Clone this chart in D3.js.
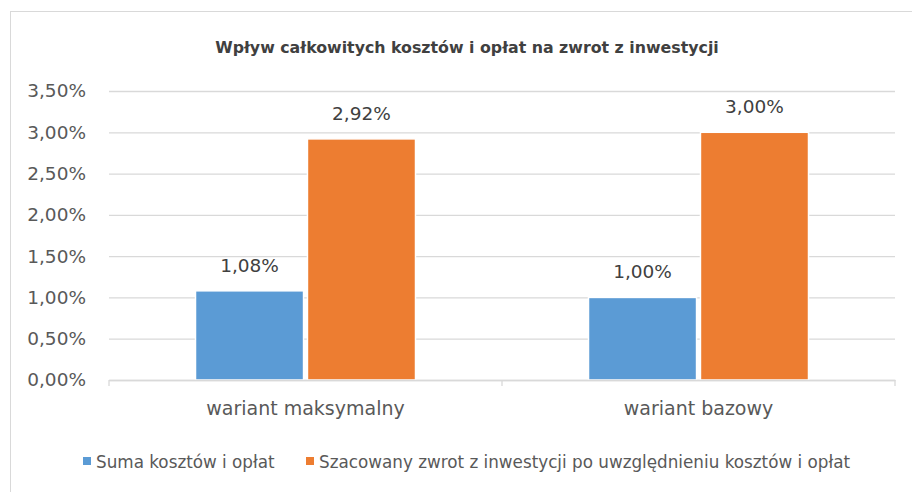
<!DOCTYPE html>
<html>
<head>
<meta charset="utf-8">
<script src="https://cdn.jsdelivr.net/npm/d3@7"></script>
<style>
  body { margin: 0; background: #fff; }
  text { font-family: "DejaVu Sans", sans-serif; fill: #595959; }
</style>
</head>
<body>
<div id="chart"></div>
<script>
// Données du graphique
const categories = ["wariant maksymalny", "wariant bazowy"];
const seriesNames = ["Suma kosztów i opłat", "Szacowany zwrot z inwestycji po uwzględnieniu kosztów i opłat"];
const sumaKosztow = [1.08, 1.00];
const szacowanyZwrot = [2.92, 3.00];
const yTicks = [0, 0.5, 1, 1.5, 2, 2.5, 3, 3.5];
const colors = ["#5B9BD5", "#ED7D31"];

const width = 912, height = 492;
const margin = {top: 91, right: 17, bottom: 112, left: 109};
const innerW = width - margin.left - margin.right;
const innerH = height - margin.top - margin.bottom;

const fmt = v => d3.format(".2f")(v).replace(".", ",") + "%";

const svg = d3.select("#chart").append("svg")
    .attr("width", width)
    .attr("height", height);

// cadre du graphique
svg.append("rect")
    .attr("x", 10.5).attr("y", 11.5)
    .attr("width", width).attr("height", height)
    .attr("fill", "#fff")
    .attr("stroke", "#D9D9D9");

svg.append("text")
    .attr("x", 467).attr("y", 53)
    .attr("text-anchor", "middle")
    .attr("font-size", 15.8)
    .attr("font-weight", "bold")
    .style("fill", "#404040")
    .text("Wpływ całkowitych kosztów i opłat na zwrot z inwestycji");

const g = svg.append("g").attr("transform", `translate(${margin.left},${margin.top})`);

const x0 = d3.scaleBand().domain(categories).range([0, innerW]);
const x1 = d3.scaleBand().domain([0, 1]).range([0, 220]).paddingInner(0.035);
const y = d3.scaleLinear().domain([0, 3.5]).range([innerH, 0]);

// lignes de grille
g.append("g")
    .call(d3.axisLeft(y).tickValues(yTicks).tickSize(-innerW).tickFormat(""))
    .call(s => s.select(".domain").remove())
    .call(s => s.selectAll("line").attr("stroke", "#D9D9D9").attr("stroke-width", 1.3));

// étiquettes de l'axe y
g.append("g")
    .call(d3.axisLeft(y).tickValues(yTicks).tickSize(0).tickPadding(23).tickFormat(fmt))
    .call(s => s.select(".domain").remove())
    .call(s => s.selectAll("text").attr("font-size", 18.5).style("fill", "#595959").style("font-family", "DejaVu Sans"));

const rows = categories.map((c, i) => ({cat: c, values: [sumaKosztow[i], szacowanyZwrot[i]]}));

const groups = g.selectAll(".grp").data(rows).join("g")
    .attr("class", "grp")
    .attr("transform", d => `translate(${x0(d.cat) + (x0.bandwidth() - 220) / 2},0)`);

groups.selectAll("rect").data(d => d.values.map((v, k) => ({k, v}))).join("rect")
    .attr("x", d => x1(d.k))
    .attr("y", d => y(d.v))
    .attr("width", x1.bandwidth())
    .attr("height", d => innerH - y(d.v))
    .attr("fill", d => colors[d.k])
    .attr("stroke", "#fff")
    .attr("stroke-width", 1.5);

groups.selectAll(".lbl").data(d => d.values.map((v, k) => ({k, v}))).join("text")
    .attr("class", "lbl")
    .attr("x", d => x1(d.k) + x1.bandwidth() / 2)
    .attr("y", d => y(d.v) - 19)
    .attr("text-anchor", "middle")
    .attr("font-size", 18.5)
    .style("fill", "#404040")
    .text(d => fmt(d.v));

// axe x
g.append("g")
    .attr("transform", `translate(0,${innerH})`)
    .call(d3.axisBottom(x0).tickSize(0).tickPadding(22))
    .call(s => s.select(".domain").attr("stroke", "#D9D9D9").attr("stroke-width", 1.3))
    .call(s => s.selectAll("text").attr("font-size", 19).style("fill", "#595959").style("font-family", "DejaVu Sans"));

// graduations entre catégories
g.append("g").selectAll("line").data([0, innerW / 2, innerW]).join("line")
    .attr("x1", d => d).attr("x2", d => d)
    .attr("y1", innerH).attr("y2", innerH + 6)
    .attr("stroke", "#D9D9D9").attr("stroke-width", 1.3);

// légende
const legend = svg.append("g").attr("transform", "translate(83,462)");
const legendX = [0, 223];
seriesNames.forEach((name, i) => {
    const item = legend.append("g").attr("transform", `translate(${legendX[i]},0)`);
    item.append("rect").attr("x", 0).attr("y", -5).attr("width", 8).attr("height", 8).attr("fill", colors[i]);
    item.append("text").attr("x", 13).attr("y", 6).attr("font-size", 16.8).text(name);
});
</script>
</body>
</html>
